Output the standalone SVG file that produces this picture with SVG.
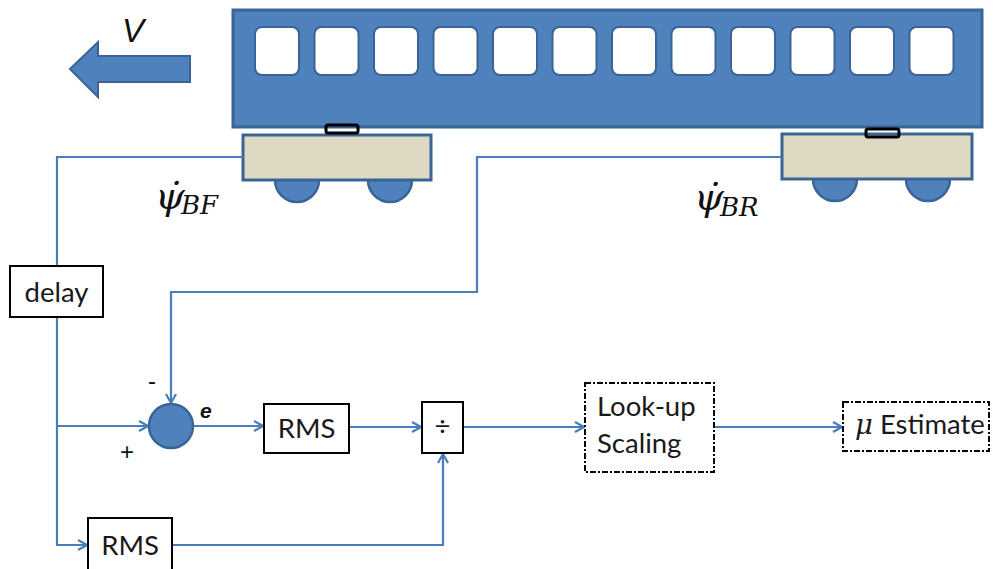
<svg xmlns="http://www.w3.org/2000/svg" width="993" height="569" viewBox="0 0 993 569">
  <style>
    .body { fill: #4F81BD; stroke: #3A6495; stroke-width: 3; }
    .win { fill: #FFFFFF; stroke: #3A6495; stroke-width: 2; }
    .bogie { fill: #DDD9C3; stroke: #3A6495; stroke-width: 3; }
    .wheel { fill: #4F81BD; stroke: #3A6495; stroke-width: 2.5; }
    .sensor { fill: none; stroke: #000000; stroke-width: 3; }
    .wire { fill: none; stroke: #4A7EBB; stroke-width: 2.2; }
    .box { fill: #FFFFFF; stroke: #000000; stroke-width: 2; }
    .dbox { fill: #FFFFFF; stroke: #000000; stroke-width: 2; stroke-dasharray: 6 2 2 2; }
    .lbl { font-family: Lato, "Open Sans", "Liberation Sans", sans-serif; font-size: 27.5px; fill: #1a1a1a; }
    .math { font-family: "DejaVu Serif", "Liberation Serif", serif; font-style: italic; fill: #111111; }
    .sign { font-family: "Liberation Sans", sans-serif; font-size: 24px; fill: #111111; }
  </style>
  <defs>
    <marker id="arr" viewBox="0 0 12 12" refX="11" refY="6" markerWidth="12" markerHeight="12" markerUnits="userSpaceOnUse" orient="auto">
      <path d="M2 1 L11 6 L2 11" fill="none" stroke="#4A7EBB" stroke-width="2.2"/>
    </marker>
  </defs>

  <!-- direction of travel -->
  <g id="velocity">
    <polygon points="70,69 98,42 98,56 190,56 190,82 98,82 98,97" fill="#4F81BD" stroke="#3A6495" stroke-width="2"/>
    <text x="122" y="42" font-family="'Liberation Sans', sans-serif" font-style="italic" font-size="33" fill="#111">V</text>
  </g>

  <!-- car body with windows -->
  <g id="car">
    <rect class="body" x="233" y="10" width="749" height="117"/>
    <rect class="win" x="255" y="27" width="44" height="48" rx="7"/>
    <rect class="win" x="314.5" y="27" width="44" height="48" rx="7"/>
    <rect class="win" x="374" y="27" width="44" height="48" rx="7"/>
    <rect class="win" x="433.5" y="27" width="44" height="48" rx="7"/>
    <rect class="win" x="493" y="27" width="44" height="48" rx="7"/>
    <rect class="win" x="552.5" y="27" width="44" height="48" rx="7"/>
    <rect class="win" x="612" y="27" width="44" height="48" rx="7"/>
    <rect class="win" x="671.5" y="27" width="44" height="48" rx="7"/>
    <rect class="win" x="731" y="27" width="44" height="48" rx="7"/>
    <rect class="win" x="790.5" y="27" width="44" height="48" rx="7"/>
    <rect class="win" x="850" y="27" width="44" height="48" rx="7"/>
    <rect class="win" x="909.5" y="27" width="44" height="48" rx="7"/>
  </g>

  <!-- front bogie -->
  <g id="bogie-front">
    <path class="wheel" d="M275 180 A22 22 0 0 0 319 180 Z"/>
    <path class="wheel" d="M368 180 A22 22 0 0 0 412 180 Z"/>
    <rect class="bogie" x="243" y="135" width="188" height="45"/>
    <rect class="sensor" x="326" y="125" width="32" height="8" rx="2"/>
  </g>

  <!-- rear bogie -->
  <g id="bogie-rear">
    <path class="wheel" d="M813 179 A22 22 0 0 0 857 179 Z"/>
    <path class="wheel" d="M906 179 A22 22 0 0 0 950 179 Z"/>
    <rect class="bogie" x="782" y="134" width="190" height="45"/>
    <rect class="sensor" x="866" y="129" width="33" height="8" rx="2"/>
  </g>

  <!-- yaw-rate labels -->
  <g id="label-bf">
    <text x="155" y="209" class="math" font-size="38">ψ̇</text>
    <text x="181" y="214" class="math" font-size="26">BF</text>
  </g>
  <g id="label-br">
    <text x="694" y="210" class="math" font-size="38">ψ̇</text>
    <text x="720" y="216" class="math" font-size="26">BR</text>
  </g>

  <!-- signal connectors -->
  <g id="connectors">
    <polyline class="wire" points="243,157 57,157 57,266"/>
    <polyline class="wire" points="57,317 57,545 87,545" marker-end="url(#arr)"/>
    <polyline class="wire" points="57,426 148,426" marker-end="url(#arr)"/>
    <polyline class="wire" points="782,157 477,157 477,292 171,292 171,403" marker-end="url(#arr)"/>
    <polyline class="wire" points="193,426 263,426" marker-end="url(#arr)"/>
    <polyline class="wire" points="349,427 421,427" marker-end="url(#arr)"/>
    <polyline class="wire" points="172,545 443,545 443,454" marker-end="url(#arr)"/>
    <polyline class="wire" points="463,427 584,427" marker-end="url(#arr)"/>
    <polyline class="wire" points="714,427 842,427" marker-end="url(#arr)"/>
  </g>

  <g id="delay">
    <rect class="box" x="10" y="266" width="93" height="51"/>
    <text x="56.5" y="302" class="lbl" text-anchor="middle">delay</text>
  </g>

  <g id="sum">
    <circle cx="171" cy="426" r="22" fill="#4F81BD" stroke="#3A6495" stroke-width="2.5"/>
    <text x="152" y="389" class="sign" text-anchor="middle">-</text>
    <text x="127" y="460" class="sign" text-anchor="middle">+</text>
    <text x="200" y="418" font-family="Liberation Sans, sans-serif" font-size="21" font-style="italic" font-weight="bold" fill="#111">e</text>
  </g>

  <g id="rms-error">
    <rect class="box" x="264" y="404" width="85" height="49"/>
    <text x="306.5" y="438" class="lbl" text-anchor="middle">RMS</text>
  </g>

  <g id="rms-reference">
    <rect class="box" x="88" y="518" width="84" height="56"/>
    <text x="130" y="555" class="lbl" text-anchor="middle">RMS</text>
  </g>

  <g id="divide">
    <rect class="box" x="422" y="402" width="41" height="51"/>
    <text x="442.5" y="436" class="lbl" text-anchor="middle">÷</text>
  </g>

  <g id="lookup">
    <rect class="dbox" x="585" y="383" width="129" height="89"/>
    <text x="597" y="416" class="lbl">Look-up</text>
    <text x="597" y="453" class="lbl">Scaling</text>
  </g>

  <g id="estimate">
    <rect class="dbox" x="843" y="402" width="146" height="49"/>
    <text x="855" y="434" class="lbl"><tspan font-family="'DejaVu Serif', serif" font-style="italic">μ</tspan> Estimate</text>
  </g>
</svg>
